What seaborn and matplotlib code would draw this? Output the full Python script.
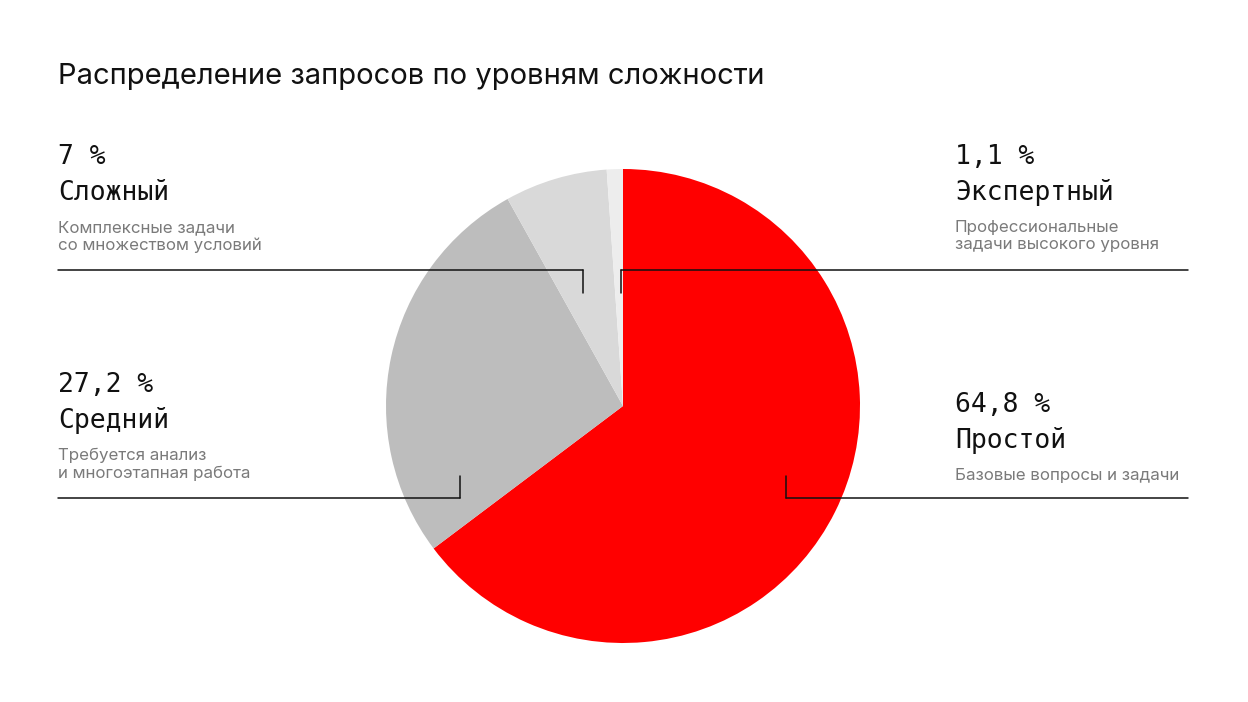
import matplotlib.pyplot as plt
import seaborn as sns

levels = ["Простой", "Средний", "Сложный", "Экспертный"]
shares = [64.8, 27.2, 7.0, 1.1]
share_labels = ["64,8 %", "27,2 %", "7 %", "1,1 %"]
notes = [
    "Базовые вопросы и задачи",
    "Требуется анализ\nи многоэтапная работа",
    "Комплексные задачи\nсо множеством условий",
    "Профессиональные\nзадачи высокого уровня",
]
colors = ["#ff0000", "#bdbdbd", "#d9d9d9", "#ededed"]

sns.set_theme(style="white")
plt.rcParams["font.family"] = ["Inter", "DejaVu Sans"]

W, H = 1248, 702
fig = plt.figure(figsize=(W / 100, H / 100), dpi=100)
fig.patch.set_facecolor("white")

# pie axes placed in pixel space
cx, cy, r = 623, 406, 237
ax = fig.add_axes([(cx - r) / W, 1 - (cy + r) / H, 2 * r / W, 2 * r / H])
ax.pie(shares, colors=colors, startangle=90, counterclock=False,
       wedgeprops=dict(linewidth=0))
ax.set_xlim(-1, 1)
ax.set_ylim(-1, 1)
ax.axis("off")

overlay = fig.add_axes([0, 0, 1, 1])
overlay.set_xlim(0, W)
overlay.set_ylim(H, 0)
overlay.axis("off")
overlay.patch.set_alpha(0)

overlay.text(58, 77, "Распределение запросов по уровням сложности",
             fontsize=21, va="center", color="#111")

# label blocks: x, top y, index
blocks = [(955, 405, 0), (58, 385, 1), (58, 157, 2), (955, 157, 3)]
for x, y, i in blocks:
    overlay.text(x, y, share_labels[i], fontsize=19, va="center",
                 family="DejaVu Sans Mono", color="#111")
    overlay.text(x, y + 36, levels[i], fontsize=19, va="center",
                 family="DejaVu Sans Mono", color="#111")
    overlay.text(x, y + 63, notes[i], fontsize=12.2, va="top",
                 color="#7a7a7a", linespacing=1.2)

kw = dict(color="#111", lw=1.1)
overlay.plot([58, 583], [270, 270], **kw)
overlay.plot([583, 583], [270, 293], **kw)
overlay.plot([621, 1188], [270, 270], **kw)
overlay.plot([621, 621], [270, 293], **kw)
overlay.plot([58, 460], [498, 498], **kw)
overlay.plot([460, 460], [476, 498], **kw)
overlay.plot([786, 1188], [498, 498], **kw)
overlay.plot([786, 786], [476, 498], **kw)

fig.savefig("out.png", dpi=100, facecolor="white")
